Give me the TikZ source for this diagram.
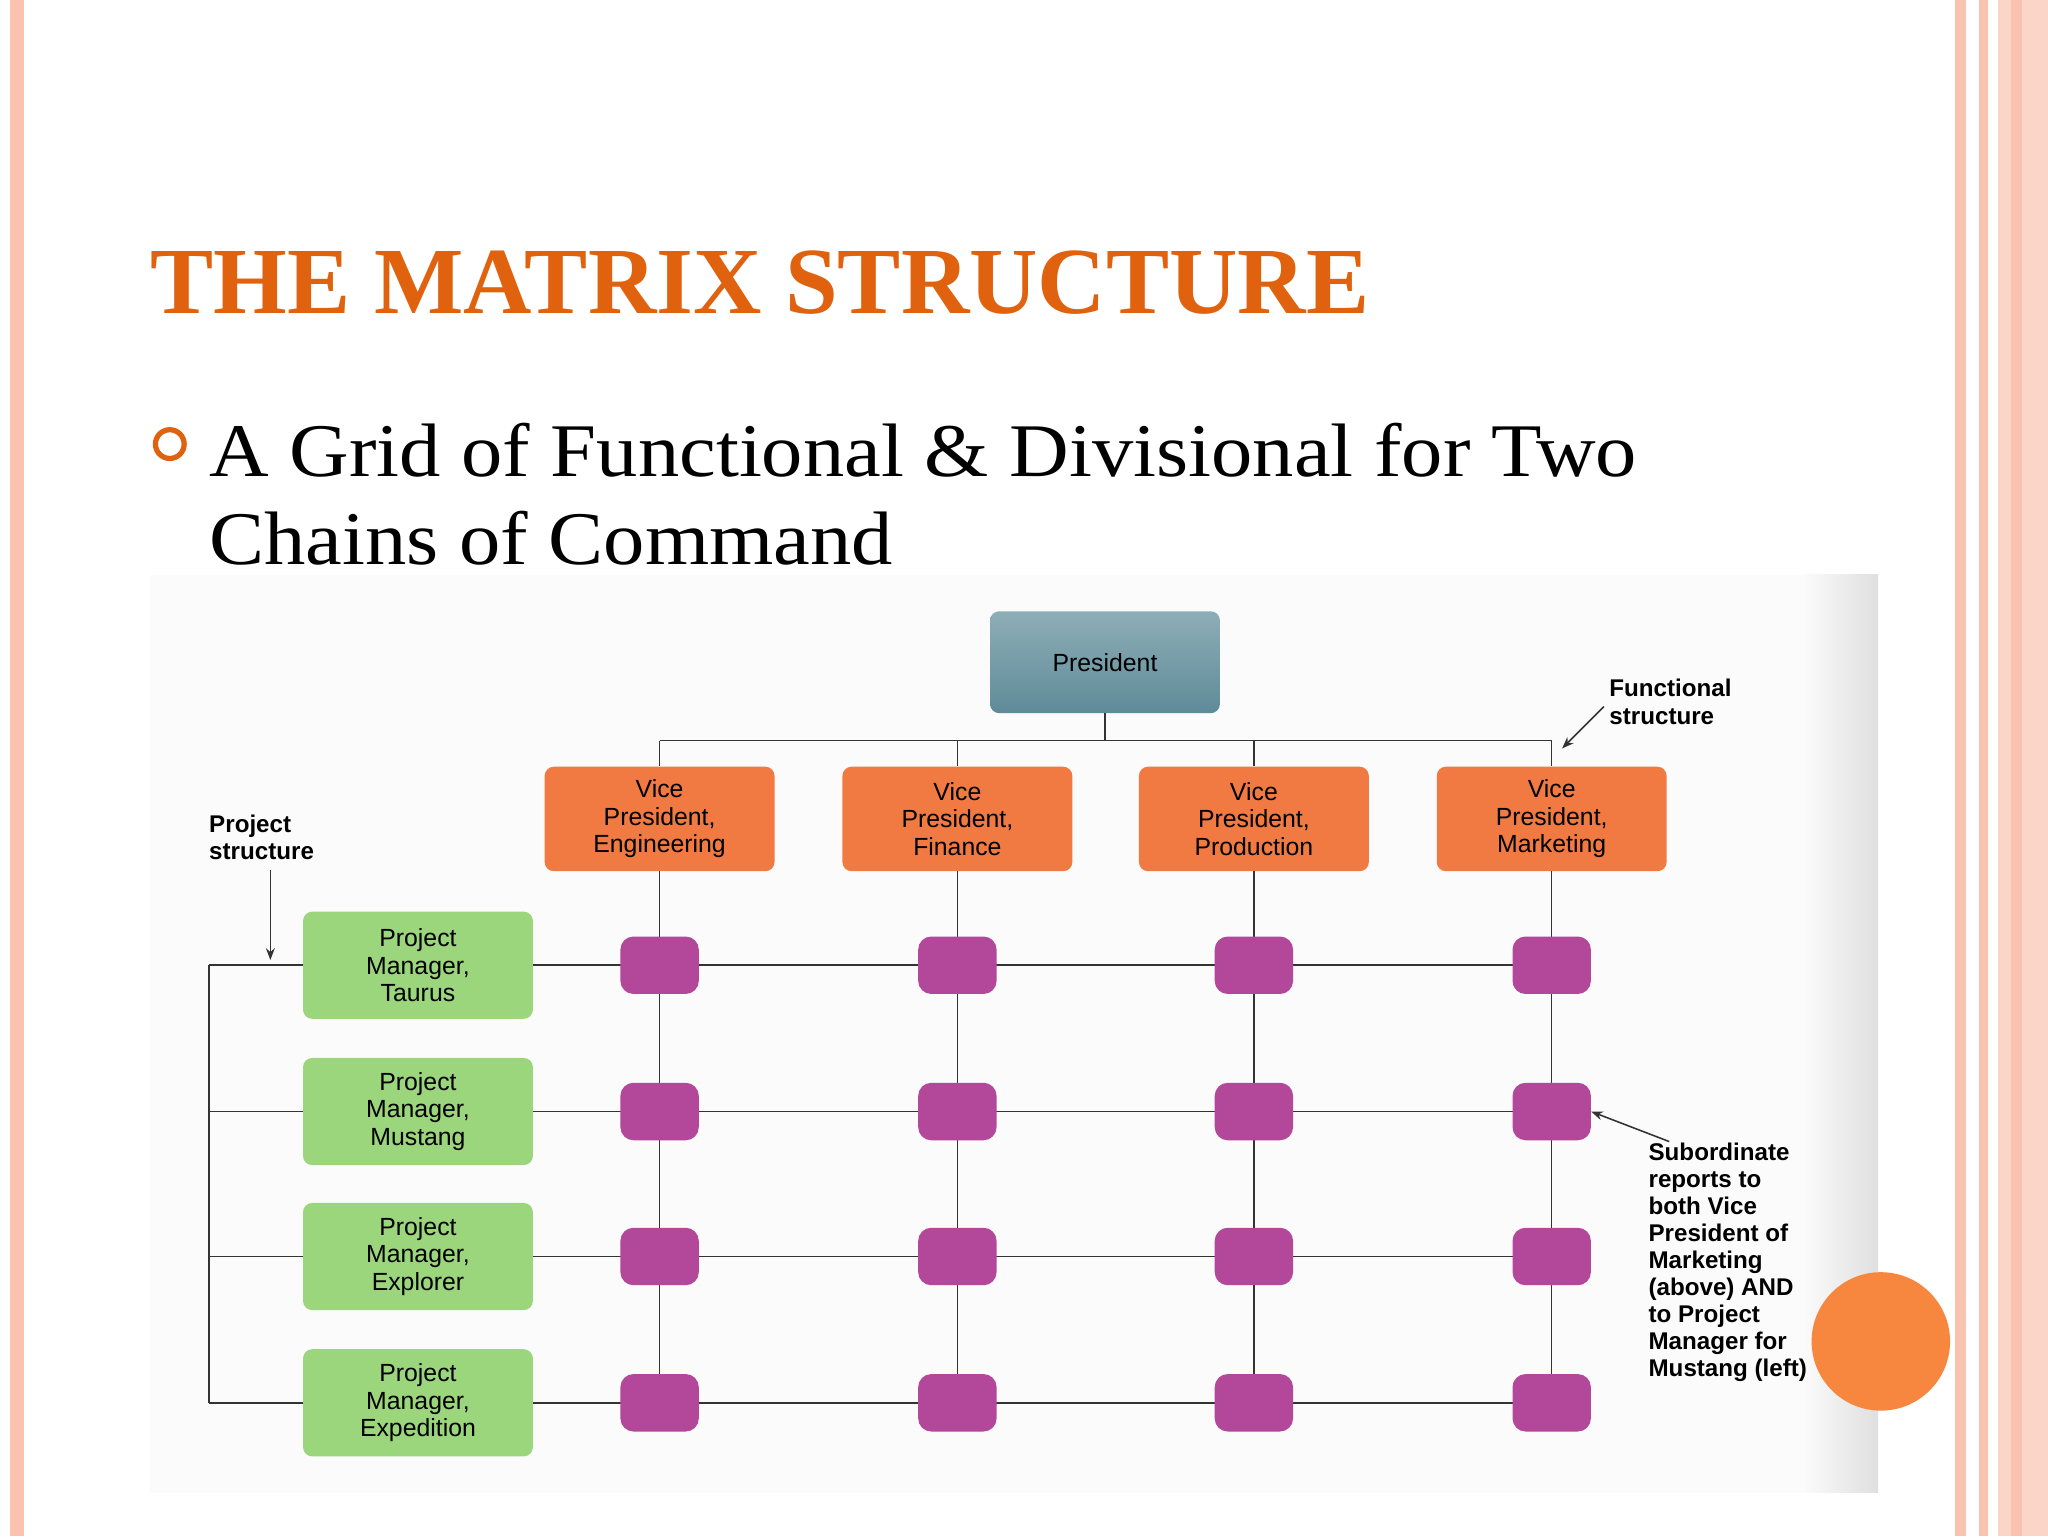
\documentclass[tikz,border=0pt]{standalone}
\usepackage{fontspec}
\setmainfont{Liberation Serif}
\setsansfont{Liberation Sans}
\newfontfamily\bodyfont[FakeStretch=1.09]{Liberation Serif}
\usetikzlibrary{arrows.meta}
\definecolor{ttl}{HTML}{E0620E}
\definecolor{stripe}{HTML}{F9C3B0}
\definecolor{vp}{HTML}{F07A42}
\definecolor{pres}{HTML}{5E8B98}
\definecolor{pm}{HTML}{9CD67C}
\definecolor{mag}{HTML}{B3479A}
\definecolor{dot}{HTML}{F7863E}
\tikzset{
 box/.style={rounded corners=7pt, minimum width=176pt, minimum height=80pt, align=center, font=\sffamily\fontsize{19}{21}\selectfont, text=black},
 cell/.style={rounded corners=10pt, fill=mag, minimum width=60pt, minimum height=44pt},
 ln/.style={line width=1.2pt, black!80},
 lab/.style={font=\sffamily\bfseries\fontsize{18.5}{20.7}\selectfont, align=left, anchor=north west, inner sep=0pt},
 arr/.style={ln, -{Stealth[length=9pt]}}
}
\begin{document}
\begin{tikzpicture}[x=1pt,y=-1pt]
\useasboundingbox (0,0) rectangle (1568,1176);
\fill[white] (0,0) rectangle (1568,1176);
% stripes
\fill[stripe] (8,0) rectangle (18,1176);
\fill[stripe] (1497,0) rectangle (1505,1176);
\fill[stripe] (1515,0) rectangle (1522,1176);
\fill[stripe!70] (1530,0) rectangle (1568,1176);
\fill[stripe] (1540,0) rectangle (1548,1176);
% title
\node[anchor=base west, inner sep=0pt, text=ttl, font=\bfseries\fontsize{72.5}{80}\selectfont] (title) at (115,240) {THE MATRIX STRUCTURE};
\draw[ttl, line width=4pt] (130,340) circle (11);
\node[anchor=base west, inner sep=0pt, font=\bodyfont\fontsize{58}{66}\selectfont] (l1) at (160,365) {A Grid of Functional \& Divisional for Two};
\node[anchor=base west, inner sep=0pt, font=\bodyfont\fontsize{58}{66}\selectfont] (l2) at (160,432) {Chains of Command};
% image background
\fill[gray!3] (115,440) rectangle (1400,1143);
\shade[left color=gray!3, right color=gray!25] (1380,440) rectangle (1438,1143);
\fill[dot] (1440,1027) circle (53);
% president
\node[box, minimum height=78pt, top color=pres!70, bottom color=pres] (P) at (846,507) {President};
\foreach \x/\n/\t in {505/A/{Vice\\President,\\Engineering},733/B/{Vice\\President,\\Finance},960/C/{Vice\\President,\\Production},1188/D/{Vice\\President,\\Marketing}}{
 \node[box, fill=vp] (\n) at (\x,627) {\t};
 \coordinate (\n top) at (\x,567);
}
\draw[ln] (P.south) -- (P.south |- Atop);
\draw[ln] (Atop) -- (Dtop);
\foreach \n in {A,B,C,D}{\draw[ln] (\n top) -- (\n.north);}
% PM boxes
\foreach \y/\m/\t in {739/1/{Project\\Manager,\\Taurus},851/2/{Project\\Manager,\\Mustang},962/3/{Project\\Manager,\\Explorer},1074/4/{Project\\Manager,\\Expedition}}{
 \node[box, fill=pm, minimum height=82pt] (M\m) at (320,\y) {\t};
 \coordinate (L\m) at (160,\y);
 \draw[ln] (L\m) -- (M\m.west);
}
\draw[ln] (L1) -- (L4);
% grid
\foreach \n in {A,B,C,D}{\draw[ln] (\n.south) -- (\n.south |- M4.center);}
\foreach \m in {1,2,3,4}{\draw[ln] (M\m.east) -- (D.south |- M\m.center);}
\foreach \n in {A,B,C,D}{\foreach \m in {1,2,3,4}{
 \node[cell] (c\n\m) at (\n.south |- M\m.center) {};}}
% labels
\node[lab] (ps) at (160,624) {Project\\structure};
\draw[arr] (207,666) -- (207,735);
\node[lab] (fs) at (1232,520) {Functional\\structure};
\draw[arr] (1228,541) -- (1196,573);
\node[lab] (sub) at (1262,875) {Subordinate\\reports to\\both Vice\\President of\\Marketing\\(above) AND\\to Project\\Manager for\\Mustang (left)};
\draw[arr] (1278,874) -- (cD2.east);
\end{tikzpicture}
\end{document}
